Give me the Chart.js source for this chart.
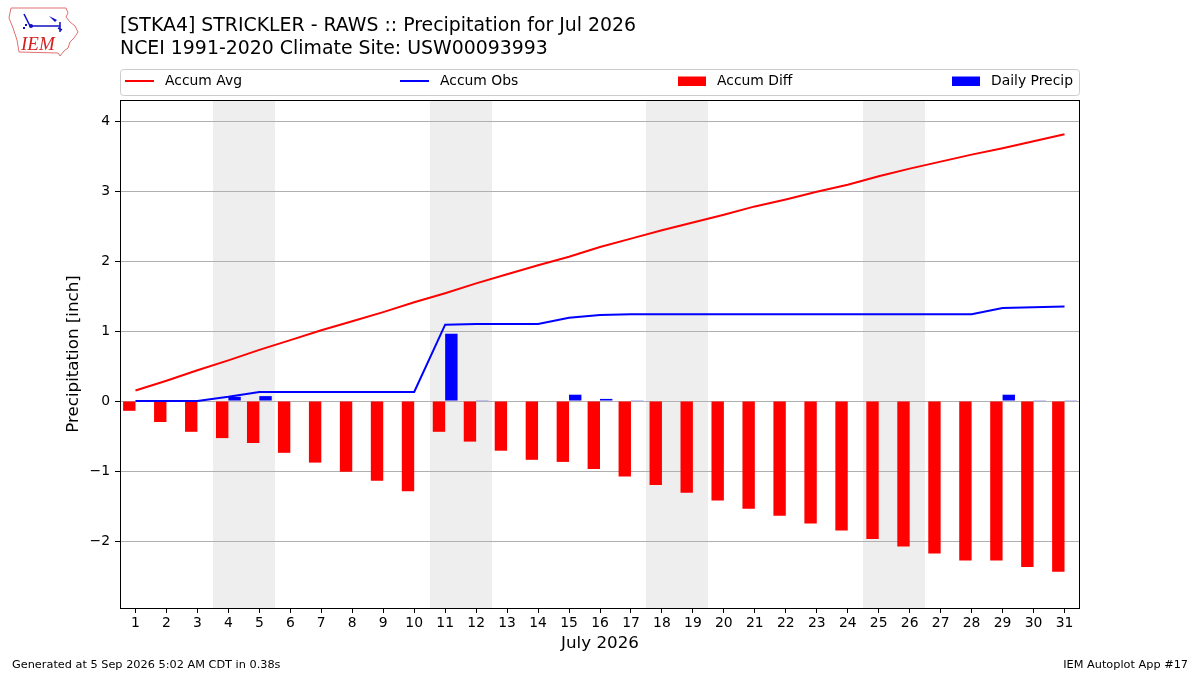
<!DOCTYPE html>
<html>
<head>
<meta charset="utf-8">
<script src="https://cdn.jsdelivr.net/npm/chart.js@4.4.1/dist/chart.umd.min.js"></script>
<style>
html,body{margin:0;padding:0;background:#fff;}
#wrap{position:relative;width:1200px;height:675px;}
canvas{display:block;}
</style>
</head>
<body>
<div id="wrap"><canvas id="c" width="1200" height="675"></canvas></div>
<script>
// ---- data ----
const days = ["1","2","3","4","5","6","7","8","9","10","11","12","13","14","15","16","17","18","19","20","21","22","23","24","25","26","27","28","29","30","31"];
const accumAvg = [0.15,0.29,0.44,0.58,0.73,0.87,1.01,1.14,1.27,1.41,1.54,1.68,1.81,1.94,2.06,2.20,2.32,2.44,2.55,2.66,2.78,2.88,2.99,3.09,3.21,3.32,3.42,3.52,3.61,3.71,3.81];
const accumObs = [0,0,0,0.06,0.13,0.13,0.13,0.13,0.13,0.13,1.09,1.10,1.10,1.10,1.19,1.23,1.24,1.24,1.24,1.24,1.24,1.24,1.24,1.24,1.24,1.24,1.24,1.24,1.33,1.34,1.35];
const accumDiff = [-0.14,-0.30,-0.44,-0.53,-0.60,-0.74,-0.88,-1.01,-1.14,-1.29,-0.44,-0.58,-0.71,-0.84,-0.87,-0.97,-1.08,-1.20,-1.31,-1.42,-1.54,-1.64,-1.75,-1.85,-1.97,-2.08,-2.18,-2.28,-2.28,-2.37,-2.44];
const dailyPrecip = [0,0,0,0.06,0.07,0,0,0,0,0,0.96,0.01,0,0,0.09,0.03,0.01,0,0,0,0,0,0,0,0,0,0,0,0.09,0.01,0.01];
const yTicks = [-2,-1,0,1,2,3,4];
const yMin = -2.957, yMax = 4.3;
const titleLine1 = "[STKA4] STRICKLER - RAWS :: Precipitation for Jul 2026";
const titleLine2 = "NCEI 1991-2020 Climate Site: USW00093993";
const xTitle = "July 2026";
const yTitle = "Precipitation [inch]";
const footLeft = "Generated at 5 Sep 2026 5:02 AM CDT in 0.38s";
const footRight = "IEM Autoplot App #17";
const year = 2026, monthIdx = 6;

const FONT = "'DejaVu Sans', sans-serif";

// weekend indices
const weekend = days.map((d,i)=>{const w=new Date(year,monthIdx,+d).getDay();return w===0||w===6;});

const decor = {
  id:'decor',
  beforeDraw(chart){
    const {ctx, chartArea:a, scales:{x}} = chart;
    ctx.save();
    ctx.fillStyle='#eeeeee';
    const half = (x.getPixelForValue(1)-x.getPixelForValue(0))/2;
    let i=0;
    while(i<weekend.length){
      if(!weekend[i]){i++;continue;}
      let j=i; while(j+1<weekend.length && weekend[j+1]) j++;
      const x0 = Math.round(x.getPixelForValue(i)-half);
      const x1 = Math.round(x.getPixelForValue(j)+half);
      ctx.fillRect(x0, a.top, x1-x0, a.bottom-a.top);
      i=j+1;
    }
    ctx.restore();
  },
  afterDraw(chart){
    const {ctx, chartArea:a} = chart;
    ctx.save();
    // frame
    ctx.strokeStyle='#000'; ctx.lineWidth=1;
    ctx.strokeRect(a.left+0.5, a.top+0.5, a.right-a.left-1, a.bottom-a.top);
    // titles
    ctx.fillStyle='#000';
    ctx.textBaseline='alphabetic'; ctx.textAlign='left';
    ctx.font="18.9px "+FONT;
    ctx.fillText(titleLine1, 120, 31);
    ctx.fillText(titleLine2, 120, 54);
    // axis titles
    ctx.font="16.7px "+FONT;
    ctx.textAlign='center'; ctx.textBaseline='middle';
    ctx.fillText(xTitle, (a.left+a.right)/2, 644);
    ctx.save();
    ctx.translate(74,(a.top+a.bottom)/2);
    ctx.rotate(-Math.PI/2);
    ctx.fillText(yTitle,0,0);
    ctx.restore();
    // footer
    ctx.font="11.3px "+FONT;
    ctx.textAlign='left';
    ctx.fillText(footLeft, 12, 665);
    ctx.textAlign='right';
    ctx.fillText(footRight, 1188, 665);
    // legend
    const lx=120.5, ly=69.5, lw=959, lh=26, r=3;
    ctx.strokeStyle='#cccccc'; ctx.fillStyle='rgba(255,255,255,0.8)';
    ctx.beginPath();
    ctx.moveTo(lx+r,ly); ctx.lineTo(lx+lw-r,ly); ctx.arcTo(lx+lw,ly,lx+lw,ly+r,r);
    ctx.lineTo(lx+lw,ly+lh-r); ctx.arcTo(lx+lw,ly+lh,lx+lw-r,ly+lh,r);
    ctx.lineTo(lx+r,ly+lh); ctx.arcTo(lx,ly+lh,lx,ly+lh-r,r);
    ctx.lineTo(lx,ly+r); ctx.arcTo(lx,ly,lx+r,ly,r); ctx.closePath();
    ctx.fill(); ctx.stroke();
    const items=[
      {t:'line',c:'#ff0000',x:125,label:'Accum Avg',tx:165},
      {t:'line',c:'#0000ff',x:400,label:'Accum Obs',tx:440},
      {t:'box',c:'#ff0000',x:678,label:'Accum Diff',tx:717},
      {t:'box',c:'#0000ff',x:952,label:'Daily Precip',tx:991}
    ];
    ctx.font="13.9px "+FONT; ctx.textAlign='left'; ctx.textBaseline='middle';
    items.forEach(it=>{
      if(it.t==='line'){
        ctx.strokeStyle=it.c; ctx.lineWidth=2;
        ctx.beginPath(); ctx.moveTo(it.x,81); ctx.lineTo(it.x+29,81); ctx.stroke();
      } else {
        ctx.fillStyle=it.c; ctx.fillRect(it.x,76.5,28,9.5);
      }
      ctx.fillStyle='#000';
      ctx.fillText(it.label,it.tx,81);
    });
    // logo
    drawLogo(ctx);
    ctx.restore();
  }
};

function drawLogo(ctx){
  ctx.save();
  ctx.strokeStyle='#e07070'; ctx.lineWidth=1;
  ctx.beginPath();
  ctx.moveTo(11,8); ctx.lineTo(66,8); ctx.lineTo(68,13); ctx.lineTo(66,17);
  ctx.lineTo(70,22); ctx.lineTo(75,26); ctx.lineTo(78,32); ctx.lineTo(74,38);
  ctx.lineTo(70,42); ctx.lineTo(68,48); ctx.lineTo(64,51); ctx.lineTo(60,56);
  ctx.lineTo(58,53); ctx.lineTo(19,52); ctx.lineTo(17,40); ctx.lineTo(13,28);
  ctx.lineTo(9,18); ctx.closePath(); ctx.stroke();
  ctx.fillStyle='#d42020';
  ctx.font="italic 19px 'Liberation Serif', serif";
  ctx.textAlign='left'; ctx.textBaseline='alphabetic';
  ctx.fillText('IEM',21,50);
  ctx.strokeStyle='#1010c0'; ctx.fillStyle='#1010c0'; ctx.lineWidth=1.5;
  ctx.beginPath(); ctx.moveTo(30,26); ctx.lineTo(60,26); ctx.stroke();
  ctx.beginPath(); ctx.moveTo(24,14); ctx.lineTo(27,20); ctx.lineTo(30,26); ctx.stroke();
  ctx.beginPath(); ctx.arc(31,26,2,0,Math.PI*2); ctx.fill();
  ctx.beginPath(); ctx.moveTo(49,16); ctx.lineTo(57,20); ctx.lineTo(55,22); ctx.closePath(); ctx.fill();
  ctx.beginPath(); ctx.moveTo(60,22); ctx.lineTo(60,32); ctx.moveTo(58,28); ctx.lineTo(62,30); ctx.stroke();
  ctx.fillRect(23,27,2,2); ctx.fillRect(25,24,2,2);
  ctx.restore();
}

const ctx = document.getElementById('c').getContext('2d');
new Chart(ctx,{
  type:'bar',
  data:{
    labels:days,
    datasets:[
      {type:'line',label:'Accum Avg',data:accumAvg,borderColor:'#ff0000',borderWidth:2,pointRadius:0,tension:0,fill:false,order:1},
      {type:'line',label:'Accum Obs',data:accumObs,borderColor:'#0000ff',borderWidth:2,pointRadius:0,tension:0,fill:false,order:1},
      {type:'bar',label:'Accum Diff',data:accumDiff,backgroundColor:'#ff0000',categoryPercentage:0.8,barPercentage:1.0,order:2},
      {type:'bar',label:'Daily Precip',data:dailyPrecip,backgroundColor:'#0000ff',categoryPercentage:0.8,barPercentage:1.0,order:2}
    ]
  },
  options:{
    responsive:false,
    animation:false,
    devicePixelRatio:1,
    layout:{padding:{left:0,top:100,right:120,bottom:0}},
    plugins:{legend:{display:false},tooltip:{enabled:false},title:{display:false}},
    scales:{
      x:{
        type:'category',
        offset:true,
        grid:{display:true,drawOnChartArea:false,drawTicks:true,tickLength:5,tickColor:'#000',offset:false},
        border:{display:false},
        ticks:{color:'#000',font:{family:FONT,size:13.9},autoSkip:false,maxRotation:0,minRotation:0,padding:2},
        afterFit(s){s.height=67;}
      },
      y:{
        type:'linear',
        min:yMin,max:yMax,
        afterBuildTicks(s){s.ticks=yTicks.map(v=>({value:v}));},
        grid:{color:'#b0b0b0',lineWidth:1,drawTicks:true,tickLength:5,tickColor:'#000'},
        border:{display:false},
        ticks:{color:'#000',font:{family:FONT,size:13.9},padding:5,
          callback:(v)=> (v<0?'\u2212'+Math.abs(v):String(v))},
        afterFit(s){s.width=120;}
      }
    }
  },
  plugins:[decor]
});
</script>
</body>
</html>
